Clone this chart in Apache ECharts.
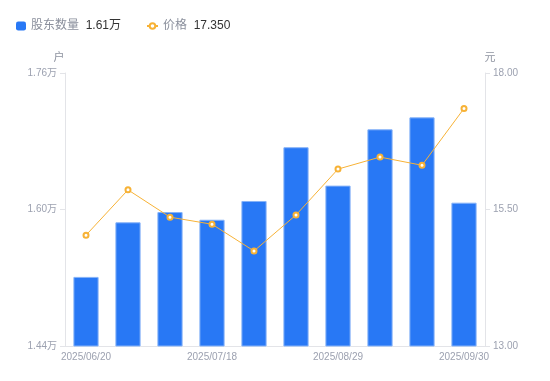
<!DOCTYPE html>
<html>
<head>
<meta charset="utf-8">
<script src="https://cdn.jsdelivr.net/npm/echarts@6/dist/echarts.min.js"></script>
<style>
html,body{margin:0;padding:0;background:#fff;}
#c{width:550px;height:381px;}
</style>
</head>
<body>
<div id="c"></div>
<script>
var categories = ['2025/06/20','2025/06/30','2025/07/10','2025/07/18','2025/07/31','2025/08/20','2025/08/29','2025/09/10','2025/09/19','2025/09/30'];
var holders = [15210, 15850, 15970, 15880, 16100, 16730, 16280, 16940, 17080, 16080];
var prices = [15.03, 15.86, 15.36, 15.23, 14.74, 15.40, 16.24, 16.46, 16.31, 17.35];
var leftTicks = [14400, 16000, 17600];
var rightTicks = [13.00, 15.50, 18.00];
var legendValues = {'股东数量': '1.61万', '价格': '17.350'};

var FONT = '"Liberation Sans", "Noto Sans CJK SC", sans-serif';
var labelColor = '#9ca1b0';
var axisColor = '#e3e4e8';

function legendFmt(n) { return '{n|' + n + '}  {v|' + legendValues[n] + '}'; }
var legendText = {
  fontFamily: FONT,
  rich: {
    n: {color: '#8a8f9c', fontSize: 12, fontFamily: FONT},
    v: {color: '#333', fontSize: 12, fontFamily: FONT}
  }
};

var chart = echarts.init(document.getElementById('c'), null, {renderer: 'canvas'});
chart.setOption({
  animation: false,
  textStyle: {fontFamily: FONT},
  legend: [
    {
      left: 11, top: 15, padding: 5,
      itemWidth: 10, itemHeight: 9,
      data: [{name: '股东数量', icon: 'roundRect'}],
      itemStyle: {borderWidth: 0},
      formatter: legendFmt, textStyle: legendText
    },
    {
      left: 141, top: 15, padding: 5,
      itemWidth: 11, itemHeight: 7,
      data: [{name: '价格'}],
      formatter: legendFmt, textStyle: legendText
    }
  ],
  grid: {left: 65, right: 65, top: 73, bottom: 35, containLabel: false},
  xAxis: {
    type: 'category',
    data: categories,
    axisLine: {lineStyle: {color: axisColor}},
    axisTick: {show: false},
    axisLabel: {interval: 2, color: labelColor, fontSize: 10, margin: 6, fontFamily: FONT}
  },
  yAxis: [
    {
      type: 'value', name: '户', min: 14400, max: 17600, interval: 1600,
      nameGap: 10,
      nameTextStyle: {color: '#8e93a0', fontSize: 11, align: 'center', padding: [0, 12, 0, 0], fontFamily: FONT},
      axisLine: {show: true, lineStyle: {color: axisColor}},
      axisTick: {show: true, length: 5, lineStyle: {color: axisColor}},
      splitLine: {show: false},
      axisLabel: {color: labelColor, fontSize: 10, margin: 8, fontFamily: FONT,
        formatter: function (v) { return (v / 10000).toFixed(2) + '万'; }}
    },
    {
      type: 'value', name: '元', min: 13, max: 18, interval: 2.5,
      nameGap: 10,
      nameTextStyle: {color: '#8e93a0', fontSize: 11, align: 'center', padding: [0, 0, 0, 10], fontFamily: FONT},
      axisLine: {show: true, lineStyle: {color: axisColor}},
      axisTick: {show: true, length: 5, lineStyle: {color: axisColor}},
      splitLine: {show: false},
      axisLabel: {color: labelColor, fontSize: 10, margin: 8, fontFamily: FONT,
        formatter: function (v) { return v.toFixed(2); }}
    }
  ],
  series: [
    {
      name: '股东数量', type: 'bar', yAxisIndex: 0, data: holders,
      barWidth: '60%',
      itemStyle: {color: '#2878f5', borderColor: '#86b3f8', borderWidth: 1}
    },
    {
      name: '价格', type: 'line', yAxisIndex: 1, data: prices,
      symbol: 'emptyCircle', symbolSize: 5,
      lineStyle: {color: '#f7b236', width: 1},
      itemStyle: {color: '#f7b236', borderWidth: 2}
    }
  ]
});
</script>
</body>
</html>
